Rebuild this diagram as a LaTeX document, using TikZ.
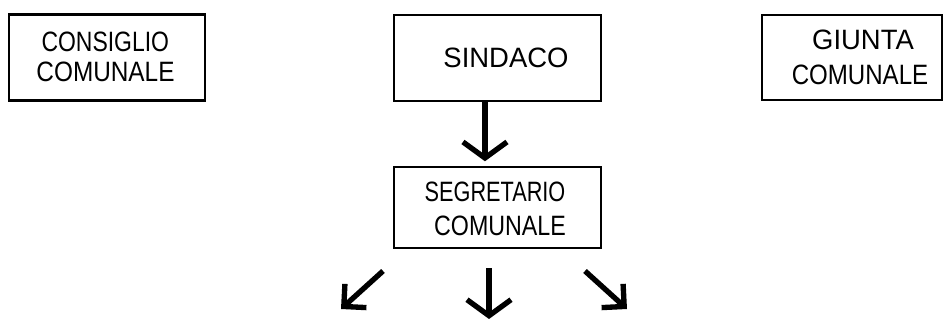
\documentclass[tikz,border=0pt]{standalone}
\usepackage{fontspec}
\setmainfont{Liberation Sans}
\usetikzlibrary{arrows.meta}
\begin{document}
\begin{tikzpicture}[x=0.75pt,y=-0.75pt,
  box/.style={draw, line width=1.6pt, inner sep=0pt},
  txt/.style={anchor=base, inner sep=0pt, font=\fontsize{21pt}{24pt}\selectfont},
  arr/.style={line width=4pt, -{Straight Barb[length=12pt,width=33pt]}},
  darr/.style={line width=4pt, -{Straight Barb[length=12pt,width=24pt]}}]
\useasboundingbox (0,0) rectangle (944,320);
\fill[white] (0,0) rectangle (944,320);
% boxes
\node[box, minimum width=147pt, minimum height=64.5pt] (cc) at (107,57.5) {};
\node[box, minimum width=155.25pt, minimum height=64.5pt] (sind) at (497.5,58) {};
\node[box, minimum width=135pt, minimum height=63.75pt] (gc) at (852,57.5) {};
\node[box, minimum width=155.25pt, minimum height=60.75pt] (seg) at (497.5,207.5) {};
% texts
\node[txt] (cc1) at (105.3,51.7) {\scalebox{0.82}[1]{CONSIGLIO}};
\node[txt] (cc2) at (105.5,81.7) {\scalebox{0.87}[1]{COMUNALE}};
\node[txt] (sind1) at (506,68) {\scalebox{0.98}[1]{SINDACO}};
\node[txt] (gc1) at (863,50) {\scalebox{0.98}[1]{GIUNTA}};
\node[txt] (gc2) at (860,85) {\scalebox{0.86}[1]{COMUNALE}};
\node[txt] (seg1) at (495,201.7) {\scalebox{0.775}[1]{SEGRETARIO}};
\node[txt] (seg2) at (500,235) {\scalebox{0.83}[1]{COMUNALE}};
% connectors
\draw[arr, shorten >=3.5pt] ([xshift=-9.4pt]sind.south) -- ([xshift=-9.4pt]seg.north);
\coordinate (l0) at (383,271);
\coordinate (l1) at (341,309);
\coordinate (m0) at (489,268);
\coordinate (m1) at (489,319);
\coordinate (r0) at (585,271);
\coordinate (r1) at (627,309);
\draw[darr] (l0) -- (l1);
\draw[arr] (m0) -- (m1);
\draw[darr] (r0) -- (r1);
\end{tikzpicture}
\end{document}
